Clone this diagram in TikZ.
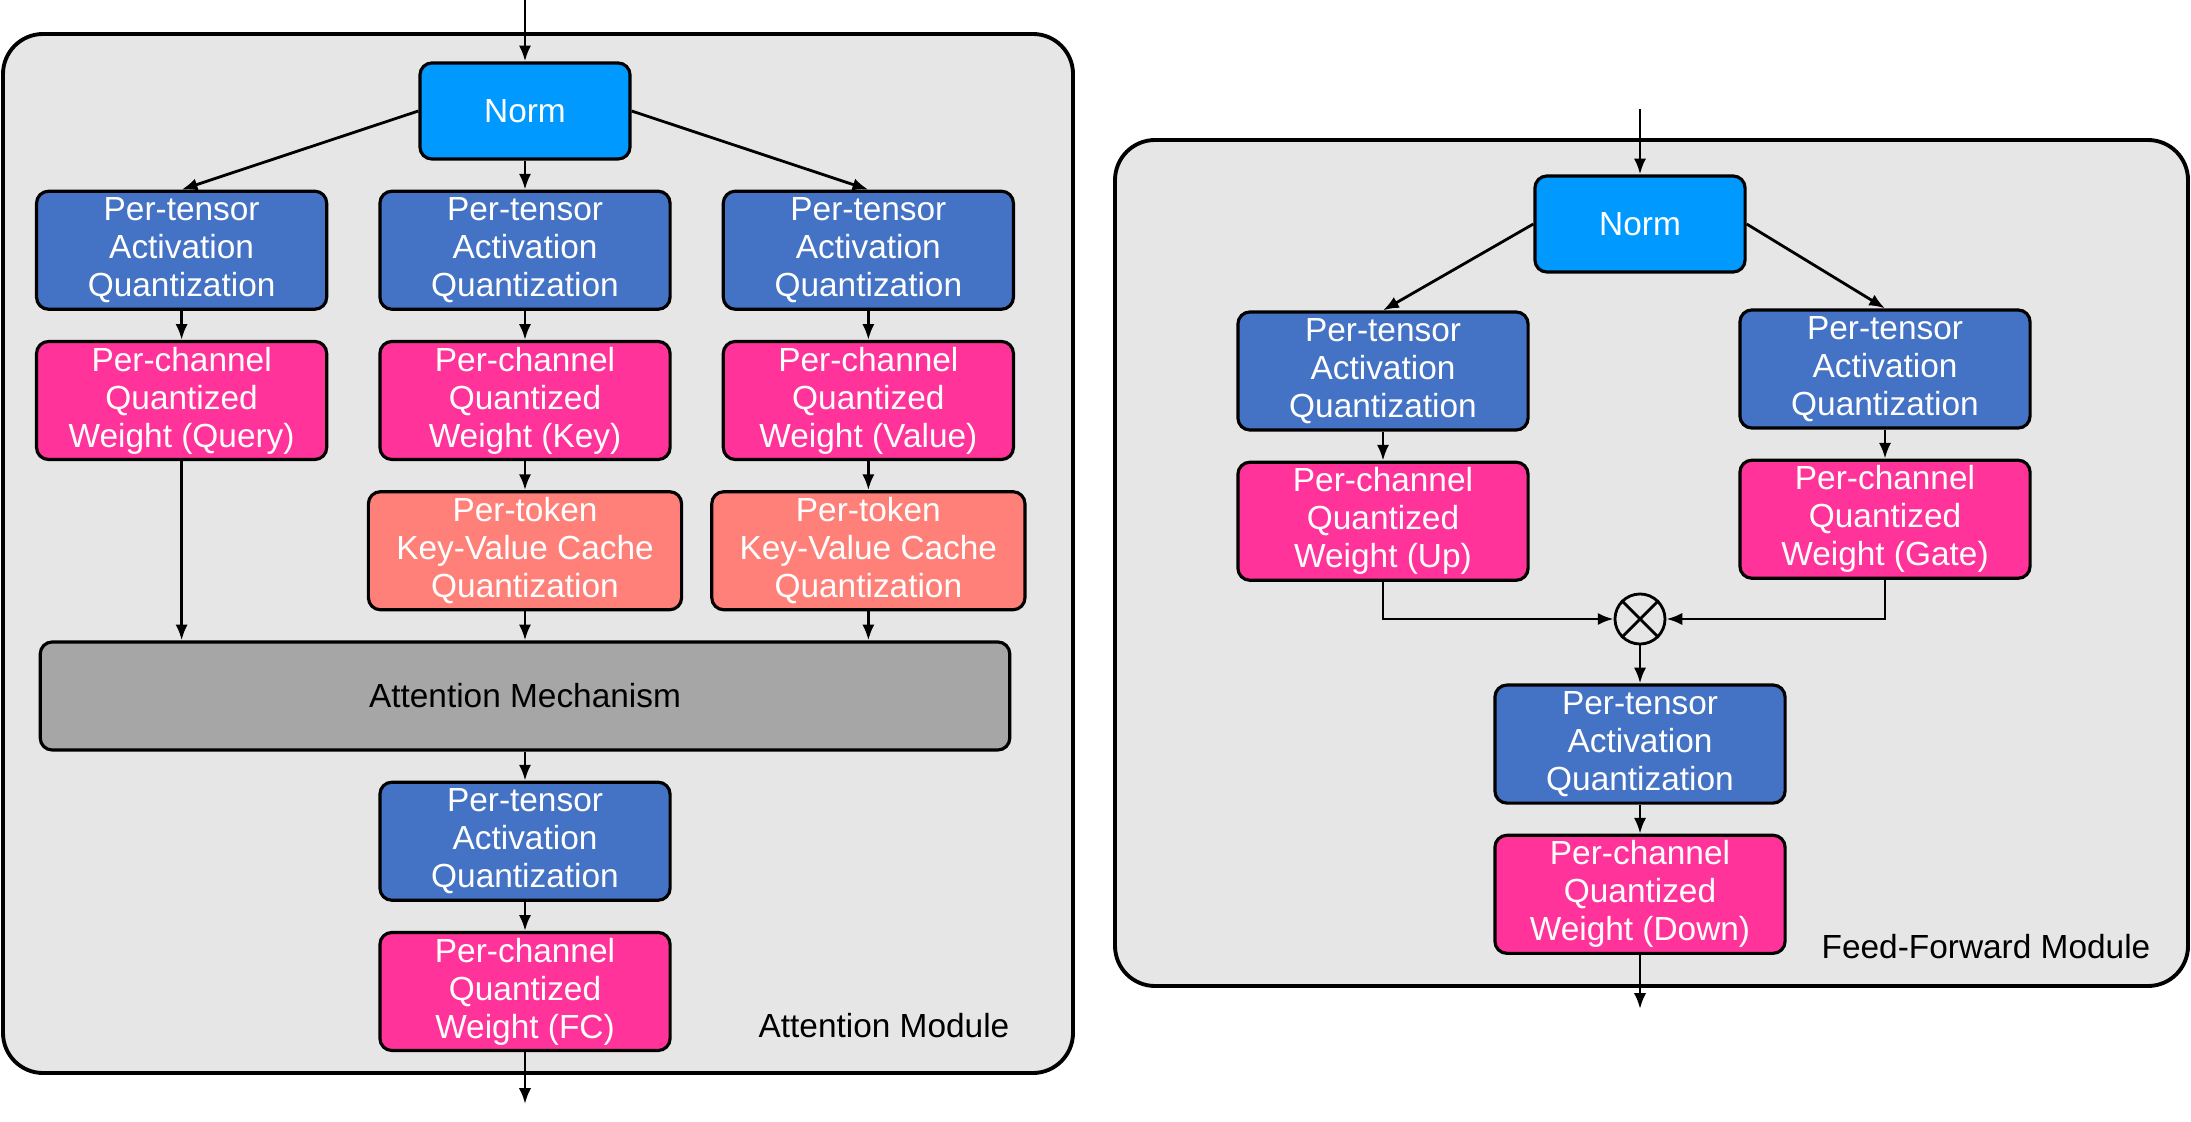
\documentclass[tikz,border=0pt]{standalone}
\usepackage{fontspec}
\setmainfont{Liberation Sans}
\usepackage{tikz}
\usetikzlibrary{arrows.meta, positioning}
\usepackage{xcolor}

\definecolor{normblue}{RGB}{0,153,255}
\definecolor{actblue}{RGB}{68,114,196}
\definecolor{wpink}{RGB}{255,51,153}
\definecolor{kvsalmon}{RGB}{255,128,120}
\definecolor{mechgray}{RGB}{166,166,166}
\definecolor{panelgray}{RGB}{230,230,230}

\begin{document}
\begin{tikzpicture}[
x=0.01cm, y=-0.01cm,
node distance=0.29cm,
box/.style={draw, line width=0.9pt, rounded corners=0.12cm, minimum width=2.9cm, minimum height=1.18cm, align=center, text=white, inner sep=1pt, font=\fontsize{9.5}{10.8}\selectfont},
actbox/.style={box, fill=actblue},
wbox/.style={box, fill=wpink},
kvbox/.style={box, fill=kvsalmon, minimum width=3.13cm},
normbox/.style={box, fill=normblue, minimum width=2.1cm, minimum height=0.96cm},
mechbox/.style={box, fill=mechgray, text=black, minimum width=9.69cm, minimum height=1.08cm},
mulnode/.style={draw, circle, line width=0.8pt, minimum size=0.5cm, inner sep=0pt},
modlabel/.style={font=\fontsize{9.5}{10.8}\selectfont, inner sep=0pt},
panel/.style={draw, line width=1.1pt, rounded corners=0.4cm, fill=panelgray},
arrow/.style={-{Latex[length=4.5pt, width=3.5pt]}, line width=0.8pt} ]

\useasboundingbox (0,0) rectangle (2191,1122);

\draw[panel] (3,34) rectangle (1073,1073);
\draw[panel] (1115,140) rectangle (2188,986);

\node[normbox] (normA) at (525,111) {Norm};
\node[actbox, below=of normA] (actK) {Per-tensor\\Activation\\Quantization};
\node[actbox, left=0.5cm of actK] (actQ) {Per-tensor\\Activation\\Quantization};
\node[actbox, right=0.5cm of actK] (actV) {Per-tensor\\Activation\\Quantization};
\node[wbox, below=of actQ] (wQ) {Per-channel\\Quantized\\Weight (Query)};
\node[wbox, below=of actK] (wK) {Per-channel\\Quantized\\Weight (Key)};
\node[wbox, below=of actV] (wV) {Per-channel\\Quantized\\Weight (Value)};
\node[kvbox, below=of wK] (kvK) {Per-token\\Key-Value Cache\\Quantization};
\node[kvbox, below=of wV] (kvV) {Per-token\\Key-Value Cache\\Quantization};
\node[mechbox, below=of kvK] (mech) {Attention Mechanism};
\node[actbox, below=of mech] (actO) {Per-tensor\\Activation\\Quantization};
\node[wbox, below=of actO] (wO) {Per-channel\\Quantized\\Weight (FC)};
\node[modlabel, anchor=base east] (attnlabel) at (1010,1037) {Attention Module};
\coordinate (inA) at (525,0);
\coordinate (outA) at (525,1104);

\draw[arrow] (inA) -- (normA);
\draw[arrow] (normA.west) -- (actQ.north);
\draw[arrow] (normA) -- (actK);
\draw[arrow] (normA.east) -- (actV.north);
\draw[arrow] (actQ) -- (wQ);
\draw[arrow] (actK) -- (wK);
\draw[arrow] (actV) -- (wV);
\draw[arrow] (wK) -- (kvK);
\draw[arrow] (wV) -- (kvV);
\draw[arrow] (wQ.south) -- (wQ.south |- mech.north);
\draw[arrow] (kvK.south) -- (kvK.south |- mech.north);
\draw[arrow] (kvV.south) -- (kvV.south |- mech.north);
\draw[arrow] (mech) -- (actO);
\draw[arrow] (actO) -- (wO);
\draw[arrow] (wO) -- (outA);

\node[normbox] (normF) at (1640,224) {Norm};
\node[actbox] (actU) at (1383,371) {Per-tensor\\Activation\\Quantization};
\node[actbox] (actG) at (1885,369) {Per-tensor\\Activation\\Quantization};
\node[wbox, below=of actU] (wU) {Per-channel\\Quantized\\Weight (Up)};
\node[wbox, below=of actG] (wG) {Per-channel\\Quantized\\Weight (Gate)};
\node[mulnode] (mul) at (1640,619) {};
\node[actbox, below=0.38cm of mul] (actD) {Per-tensor\\Activation\\Quantization};
\node[wbox, below=of actD] (wD) {Per-channel\\Quantized\\Weight (Down)};
\node[modlabel, anchor=base east] (fflabel) at (2151,958) {Feed-Forward Module};
\coordinate (inF) at (1640,109);
\coordinate (outF) at (1640,1009);

\draw[line width=0.8pt] (mul.north west) -- (mul.south east);
\draw[line width=0.8pt] (mul.north east) -- (mul.south west);
\draw[arrow] (inF) -- (normF);
\draw[arrow] (normF.west) -- (actU.north);
\draw[arrow] (normF.east) -- (actG.north);
\draw[arrow] (actU) -- (wU);
\draw[arrow] (actG) -- (wG);
\draw[arrow] (wU.south) |- (mul.west);
\draw[arrow] (wG.south) |- (mul.east);
\draw[arrow] (mul) -- (actD);
\draw[arrow] (actD) -- (wD);
\draw[arrow] (wD) -- (outF);

\end{tikzpicture}
\end{document}
